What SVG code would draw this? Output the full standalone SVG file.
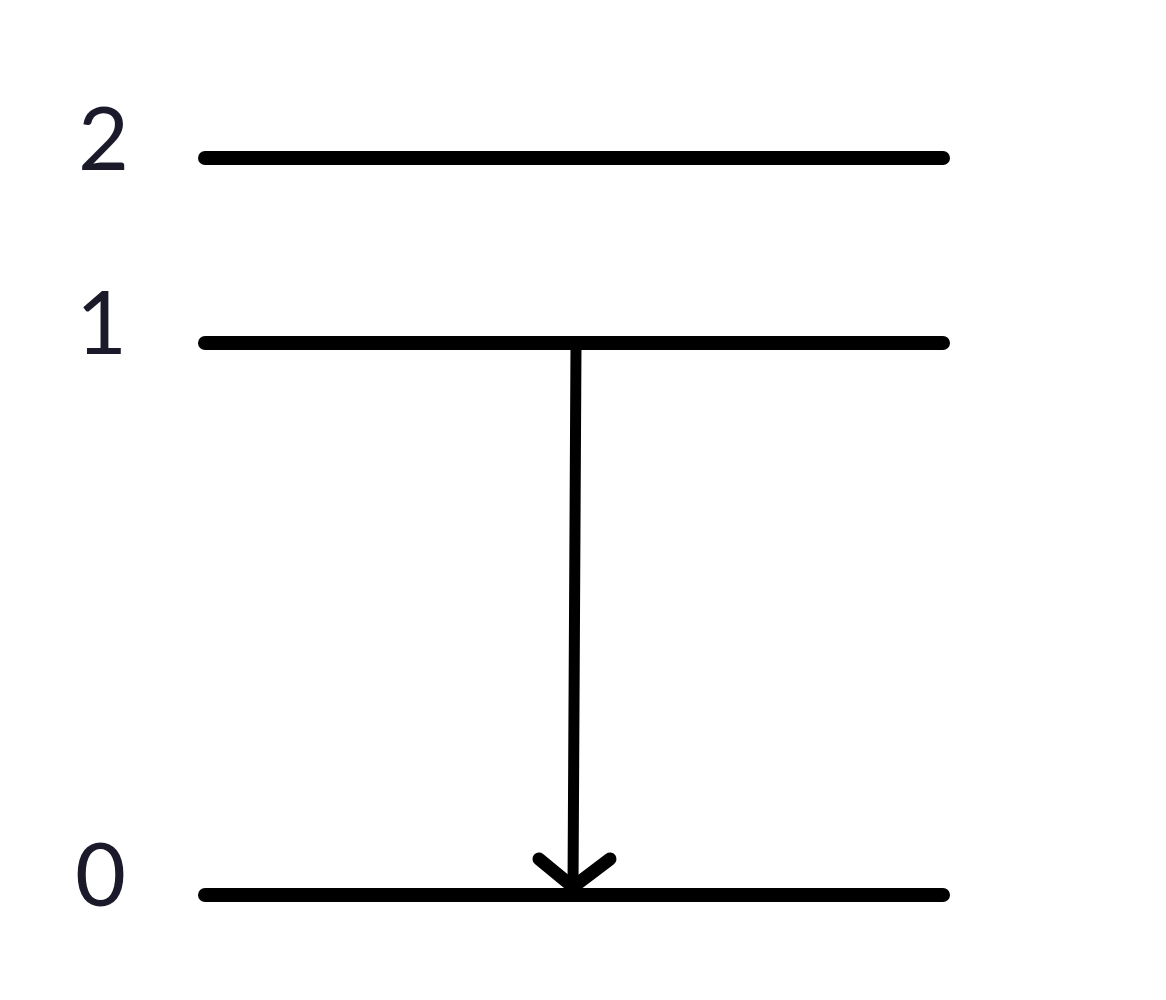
<svg xmlns="http://www.w3.org/2000/svg" width="1166" height="1000" viewBox="0 0 1166 1000">
<style>
.lvl{stroke:#000;stroke-width:14;stroke-linecap:round;fill:none}
.lbl{font-family:Lato,"Open Sans","Liberation Sans",sans-serif;font-size:88px;fill:#1a1a2a}
.arr{stroke:#000;stroke-width:11;stroke-linecap:round;stroke-linejoin:round;fill:none}
.head{stroke:#000;stroke-width:13;stroke-linecap:round;stroke-linejoin:round;fill:none}
</style>
<rect width="1166" height="1000" fill="#fff"/>
<g id="level2"><line class="lvl" x1="205" y1="158" x2="943" y2="158"/><text class="lbl" x="78" y="170">2</text></g>
<g id="level1"><line class="lvl" x1="205" y1="343" x2="943" y2="343"/><text class="lbl" x="76" y="354">1</text></g>
<g id="level0"><line class="lvl" x1="205" y1="895" x2="943" y2="895"/><text class="lbl" x="75" y="906">0</text></g>
<g id="connectors">
<line class="arr" x1="576" y1="345" x2="573" y2="888"/>
<polyline class="head" points="539,859 573,887 610,859"/>
</g>
</svg>
